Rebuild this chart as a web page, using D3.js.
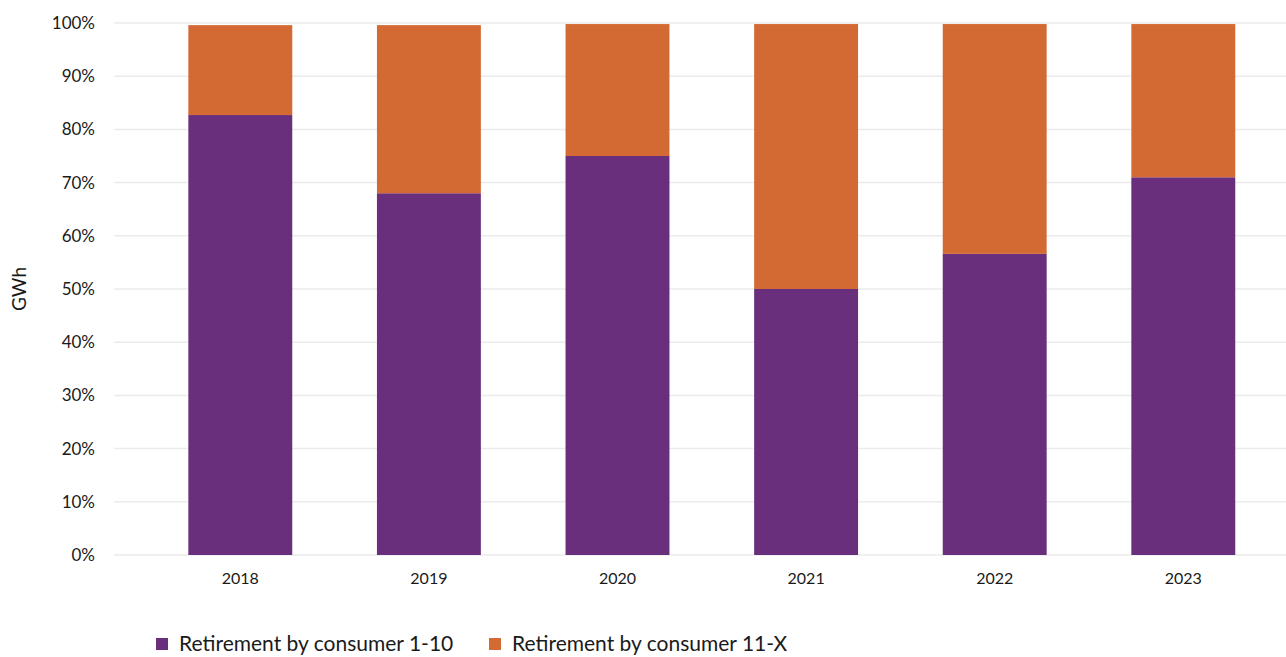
<!DOCTYPE html>
<html>
<head>
<meta charset="utf-8">
<script src="https://cdn.jsdelivr.net/npm/d3@7"></script>
<style>
  html, body { margin: 0; padding: 0; background: #fff; }
  svg { display: block; font-family: Lato, "Open Sans", sans-serif; }
</style>
</head>
<body>
<svg id="chart" width="1286" height="657"></svg>
<script>
const categories = ["2018", "2019", "2020", "2021", "2022", "2023"];
const seriesNames = ["Retirement by consumer 1-10", "Retirement by consumer 11-X"];
const consumer1to10 = [82.7, 68.0, 75.0, 50.0, 56.6, 71.0];
const consumer11toX = [16.9, 31.6, 24.8, 49.8, 43.2, 28.8];
const yTicks = [0, 10, 20, 30, 40, 50, 60, 70, 80, 90, 100];
const colors = ["#692f7d", "#d36a33"];

const svg = d3.select("#chart");
const gridLeft = 114, gridRight = 1286;
const x = d3.scaleBand().domain(categories).range([146, 1277.6]).paddingInner(0.449).paddingOuter(0.2245);
const y = d3.scaleLinear().domain([0, 100]).range([555, 23]);

// gridlines
svg.append("g").selectAll("line").data(yTicks).join("line")
  .attr("x1", gridLeft).attr("x2", gridRight)
  .attr("y1", d => y(d)).attr("y2", d => y(d))
  .attr("stroke", "#ebebeb").attr("stroke-width", 1.5);

// stacked data
const table = categories.map((c, i) => ({ cat: c, a: consumer1to10[i], b: consumer11toX[i] }));
const stack = d3.stack().keys(["a", "b"])(table);

svg.append("g").selectAll("g").data(stack).join("g")
  .attr("fill", (d, i) => colors[i])
  .selectAll("rect").data(d => d).join("rect")
  .attr("x", d => x(d.data.cat))
  .attr("width", x.bandwidth())
  .attr("y", d => y(d[1]))
  .attr("height", d => y(d[0]) - y(d[1]));

// y axis
const yAxis = d3.axisLeft(y).tickValues(yTicks).tickFormat(d => d + "%").tickSize(0).tickPadding(0);
const gy = svg.append("g").attr("transform", "translate(95,0)").call(yAxis);
gy.select(".domain").remove();
gy.selectAll("text").attr("font-size", 17).attr("fill", "#1a1a1a").attr("font-family", "Lato, sans-serif");

// x axis
const xAxis = d3.axisBottom(x).tickSize(0).tickPadding(0);
const gx = svg.append("g").attr("transform", "translate(0,573)").call(xAxis);
gx.select(".domain").remove();
gx.selectAll("text").attr("font-size", 16).attr("fill", "#1a1a1a").attr("font-family", "Lato, sans-serif");

// y title
svg.append("text").attr("transform", "translate(26,289) rotate(-90)")
  .attr("text-anchor", "middle").attr("font-size", 19).attr("fill", "#1a1a1a").text("GWh");

// legend
const legendX = [156, 489];
const lg = svg.append("g").selectAll("g").data(seriesNames).join("g")
  .attr("transform", (d, i) => `translate(${legendX[i]},638)`);
lg.append("rect").attr("width", 12).attr("height", 12).attr("fill", (d, i) => colors[i]);
lg.append("text").attr("x", 23).attr("y", 13).attr("font-size", 21).attr("fill", "#1a1a1a").text(d => d);
</script>
</body>
</html>
